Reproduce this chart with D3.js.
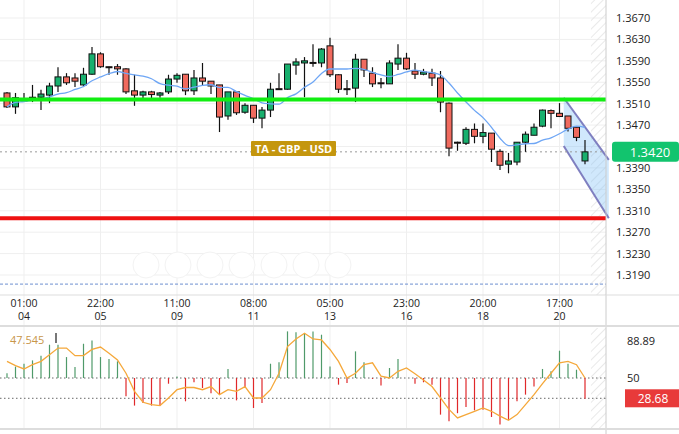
<!DOCTYPE html><html><head><meta charset="utf-8">
<script src="https://cdn.jsdelivr.net/npm/d3@7"></script>
<style>body{margin:0;background:#fff}svg{font-family:"Open Sans",Arial,sans-serif}</style></head><body>
<svg id="c" width="679" height="434"></svg>
<script>
const opens=[1.3530,1.3504,1.3517,1.3522,1.3522,1.3526,1.3543,1.3560,1.3558,1.3545,1.3565,1.3603,1.3579,1.3579,1.3575,1.3534,1.3526,1.3532,1.3526,1.3532,1.3556,1.3565,1.3534,1.3558,1.3552,1.3545,1.3487,1.3532,1.3494,1.3507,1.3483,1.3498,1.3538,1.3537,1.3582,1.3586,1.3587,1.3586,1.3618,1.3564,1.3538,1.3539,1.3593,1.3567,1.3549,1.3547,1.3584,1.3595,1.3571,1.3565,1.3567,1.3558,1.3511,1.3438,1.3436,1.3462,1.3449,1.3455,1.3421,1.3397,1.3401,1.3438,1.3451,1.3468,1.3497,1.3492,1.3487,1.3466,1.3403];
const closes=[1.3504,1.3521,1.3517,1.3522,1.3528,1.3543,1.3560,1.3549,1.3552,1.3565,1.3603,1.3579,1.3578,1.3575,1.3532,1.3526,1.3532,1.3527,1.3530,1.3556,1.3563,1.3534,1.3558,1.3552,1.3543,1.3485,1.3532,1.3493,1.3507,1.3483,1.3498,1.3537,1.3537,1.3584,1.3588,1.3590,1.3586,1.3612,1.3564,1.3537,1.3537,1.3593,1.3573,1.3547,1.3548,1.3586,1.3595,1.3575,1.3565,1.3569,1.3558,1.3513,1.3427,1.3437,1.3462,1.3449,1.3456,1.3425,1.3395,1.3403,1.3438,1.3453,1.3466,1.3498,1.3492,1.3486,1.3464,1.3447,1.3420];
const highs=[1.3532,1.3530,1.3530,1.3545,1.3536,1.3549,1.3578,1.3567,1.3567,1.3577,1.3616,1.3606,1.3579,1.3584,1.3576,1.3564,1.3534,1.3534,1.3532,1.3564,1.3567,1.3565,1.3573,1.3586,1.3552,1.3545,1.3532,1.3532,1.3511,1.3507,1.3504,1.3549,1.3567,1.3584,1.3595,1.3597,1.3621,1.3614,1.3633,1.3565,1.3554,1.3603,1.3593,1.3578,1.3558,1.3591,1.3621,1.3605,1.3586,1.3575,1.3575,1.3571,1.3512,1.3439,1.3466,1.3473,1.3473,1.3455,1.3425,1.3418,1.3438,1.3458,1.3473,1.3499,1.3499,1.3511,1.3487,1.3466,1.3442];
const lows=[1.3502,1.3491,1.3513,1.3513,1.3498,1.3511,1.3532,1.3545,1.3541,1.3541,1.3564,1.3577,1.3564,1.3564,1.3528,1.3506,1.3515,1.3519,1.3521,1.3528,1.3549,1.3526,1.3526,1.3543,1.3528,1.3457,1.3480,1.3489,1.3491,1.3474,1.3464,1.3485,1.3536,1.3536,1.3564,1.3522,1.3579,1.3578,1.3560,1.3530,1.3526,1.3513,1.3560,1.3541,1.3539,1.3547,1.3573,1.3573,1.3556,1.3563,1.3543,1.3494,1.3412,1.3422,1.3433,1.3436,1.3436,1.3401,1.3386,1.3380,1.3395,1.3420,1.3451,1.3466,1.3464,1.3485,1.3458,1.3440,1.3397];
const osc=[55,62,65,68.5,73.5,85,85,72,61.5,86,89.5,72,70,67.5,30.7,21,23.7,21,21,44,51.7,25.5,45.5,39.5,34,32.5,59.5,26.5,39.5,18.5,23.7,65,66.5,99,98,97,99,95.5,62,43,44.7,78,66.5,49,42,60.5,70,50,44,45.5,43,11.5,4.5,13,19.5,16,16.7,9,1,6,25.5,32.5,41,59.5,57,78.7,65,58.7,28.3];
const signal=[67.5,63,59.5,64,67.5,74.5,81.5,81.5,73.5,73.5,80,82.5,76,69,55,36,24.5,22,21,29,37.7,40,40,37.7,41,32.5,37.7,36,41,29,29,37.7,55,83,91,97,91,90,80,67.5,50,55,64,66,52,50,57,60.5,54.5,48,41,29,17,8,11.5,15,18.5,15,10,5.5,11.5,22,32.5,44,55,66,67.5,64,50];
const timeLabels=["01:00","22:00","11:00","08:00","05:00","23:00","20:00","17:00"];
const dateLabels=["04","05","09","11","13","16","18","20"];
const labelIdx=[2,11,20,29,38,47,56,65];
const priceTicks=[1.3710,1.3670,1.3630,1.3590,1.3550,1.3510,1.3470,1.3430,1.3390,1.3350,1.3310,1.3270,1.3230,1.3190];
const support=1.3296, resistance=1.3518, lastPrice=1.3420, lowLine=1.3173;
const chanUpper=[[65.5,1.3521],[70.8,1.3405]], chanLower=[[65.5,1.3431],[70.8,1.3296]];
const oscTicks=[88.89,50];
const oscLast=28.68, oscLabel="47.545";

const svg=d3.select("#c"), W=606;
const x=d3.scaleLinear().domain([0,1]).range([7,15.5]);
const y=d3.scaleLinear().domain([1.3190,1.3670]).range([275,18]);
const y2=d3.scaleLinear().domain([50,88.89]).range([378,341]);
const n=closes.length;
const ma=closes.map((c,i)=>{const s=closes.slice(Math.max(0,i-7),i+1);return d3.mean(s);});

const g=svg.append("g");
priceTicks.forEach(t=>g.append("line").attr("x1",0).attr("x2",W).attr("y1",y(t)).attr("y2",y(t)).attr("stroke","#efefef"));
labelIdx.forEach(i=>g.append("line").attr("x1",x(i)).attr("x2",x(i)).attr("y1",0).attr("y2",428).attr("stroke","#efefef"));
const defs=svg.append("defs");
const p=defs.append("pattern").attr("id","h").attr("width",6).attr("height",6).attr("patternUnits","userSpaceOnUse").attr("patternTransform","rotate(45)");
p.append("line").attr("x1",0).attr("y1",0).attr("x2",0).attr("y2",6).attr("stroke","#e2e2e2").attr("stroke-width",1.5);
svg.append("rect").attr("x",x(68.7)).attr("y",0).attr("width",W-x(68.7)).attr("height",295).attr("fill","url(#h)");
svg.append("rect").attr("x",x(68.7)).attr("y",328).attr("width",W-x(68.7)).attr("height",100).attr("fill","url(#h)");
const cp=[[x(chanUpper[0][0]),y(chanUpper[0][1])],[x(chanUpper[1][0]),y(chanUpper[1][1])],[x(chanLower[1][0]),y(chanLower[1][1])],[x(chanLower[0][0]),y(chanLower[0][1])]];
svg.append("polygon").attr("points",cp.map(d=>d.join(",")).join(" ")).attr("fill","rgba(120,190,245,0.35)");
[chanUpper,chanLower].forEach(c=>svg.append("line").attr("x1",x(c[0][0])).attr("y1",y(c[0][1])).attr("x2",x(c[1][0])).attr("y2",y(c[1][1])).attr("stroke","#7f7fc0").attr("stroke-width",2));
svg.append("line").attr("x1",0).attr("x2",W).attr("y1",y(lastPrice)).attr("y2",y(lastPrice)).attr("stroke","#999").attr("stroke-dasharray","2,3");
svg.append("line").attr("x1",0).attr("x2",W).attr("y1",y(lowLine)).attr("y2",y(lowLine)).attr("stroke","#6d8fd0").attr("stroke-dasharray","3,2");
const cg=svg.append("g");
for(let i=0;i<n;i++){
 const up=closes[i]>=opens[i], col=up?"#18b06e":"#f06a5e";
 cg.append("line").attr("x1",x(i)).attr("x2",x(i)).attr("y1",y(highs[i])).attr("y2",y(lows[i])).attr("stroke","#111").attr("stroke-width",1.2);
 const t=y(Math.max(opens[i],closes[i])),b=y(Math.min(opens[i],closes[i]));
 cg.append("rect").attr("x",x(i)-3).attr("width",6).attr("y",t).attr("height",Math.max(1,b-t)).attr("fill",col).attr("stroke","#111");
}
svg.append("path").attr("d",d3.line().x((d,i)=>x(i)).y(d=>y(d)).curve(d3.curveMonotoneX)(ma)).attr("fill","none").attr("stroke","#6ea6f5").attr("stroke-width",1.3);
svg.append("line").attr("x1",0).attr("x2",W).attr("y1",y(resistance)).attr("y2",y(resistance)).attr("stroke","#11ee11").attr("stroke-width",4);
svg.append("line").attr("x1",0).attr("x2",W).attr("y1",y(support)).attr("y2",y(support)).attr("stroke","#ee1111").attr("stroke-width",4);
svg.append("rect").attr("x",251).attr("y",141).attr("width",85).attr("height",15).attr("fill","#c4960e").attr("rx",1);
svg.append("text").attr("x",293.5).attr("y",152.5).attr("text-anchor","middle").attr("fill","#fff").attr("font-size",11).attr("font-weight","bold").text("TA - GBP - USD");
for(let k=0;k<7;k++){svg.append("circle").attr("cx",146+k*32).attr("cy",265).attr("r",13).attr("fill","#fff").attr("stroke","#f3f3f3");}
svg.append("line").attr("x1",W).attr("x2",W).attr("y1",0).attr("y2",434).attr("stroke","#ccc");
svg.append("line").attr("x1",0).attr("x2",679).attr("y1",295).attr("y2",295).attr("stroke","#ddd");
svg.append("line").attr("x1",0).attr("x2",679).attr("y1",326).attr("y2",326).attr("stroke","#ddd").attr("stroke-width",2);
svg.append("line").attr("x1",0).attr("x2",679).attr("y1",429).attr("y2",429).attr("stroke","#ddd").attr("stroke-width",2);
priceTicks.filter(t=>Math.abs(y(t)-y(lastPrice))>11 && y(t)>6).forEach(t=>svg.append("text").attr("x",616).attr("y",y(t)+4).attr("font-size",11).attr("fill","#222").text(t.toFixed(4)));
svg.append("rect").attr("x",612).attr("y",y(lastPrice)-10).attr("width",67).attr("height",20).attr("rx",3).attr("fill","#12c46e");
svg.append("text").attr("x",650).attr("y",y(lastPrice)+5).attr("text-anchor","middle").attr("font-size",13).attr("fill","#fff").text(lastPrice.toFixed(4));
labelIdx.forEach((idx,k)=>{
 svg.append("text").attr("x",x(idx)).attr("y",307).attr("text-anchor","middle").attr("font-size",10.5).attr("fill","#222").text(timeLabels[k]);
 svg.append("text").attr("x",x(idx)).attr("y",320).attr("text-anchor","middle").attr("font-size",10.5).attr("fill","#222").text(dateLabels[k]);
});
[50,oscLast].forEach(v=>svg.append("line").attr("x1",0).attr("x2",W).attr("y1",y2(v)).attr("y2",y2(v)).attr("stroke","#666").attr("stroke-dasharray","1.5,2.5"));
osc.forEach((v,i)=>svg.append("line").attr("x1",x(i)).attr("x2",x(i)).attr("y1",y2(50)).attr("y2",y2(v)).attr("stroke",v>=50?"#4f9a6a":"#e0282a").attr("stroke-width",1.2));
svg.append("path").attr("d",d3.line().x((d,i)=>x(i)).y(d=>y2(d))(signal)).attr("fill","none").attr("stroke","#f5a83a").attr("stroke-width",1.3);
svg.append("text").attr("x",10).attr("y",344).attr("font-size",11).attr("fill","#c8964a").text(oscLabel);
svg.append("rect").attr("x",55).attr("y",333).attr("width",2).attr("height",10).attr("fill","#777");
oscTicks.forEach(t=>svg.append("text").attr("x",627).attr("y",y2(t)+4).attr("font-size",11).attr("fill","#222").text(t));
svg.append("rect").attr("x",625).attr("y",y2(oscLast)-9).attr("width",54).attr("height",18).attr("fill","#e83a3a");
svg.append("text").attr("x",653).attr("y",y2(oscLast)+5).attr("text-anchor","middle").attr("font-size",12).attr("fill","#fff").text(oscLast.toFixed(2));
</script></body></html>
